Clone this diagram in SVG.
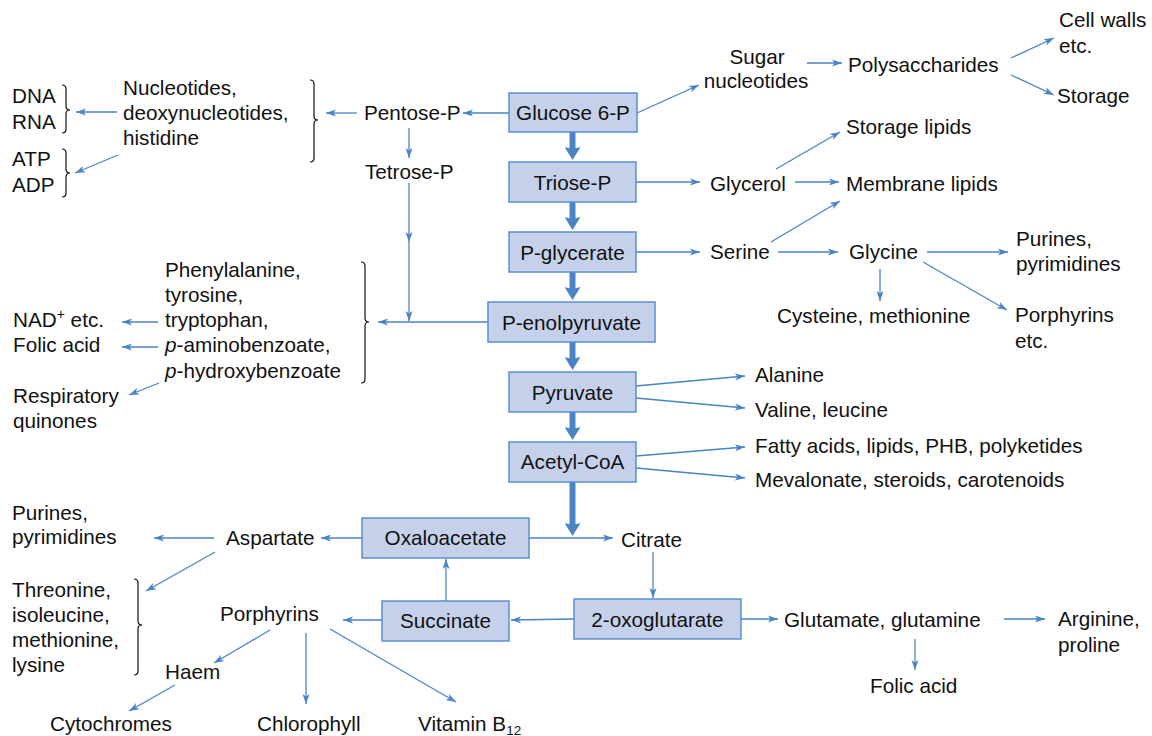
<svg xmlns="http://www.w3.org/2000/svg" width="1152" height="736" viewBox="0 0 1152 736">
<style>
text{font-family:"Liberation Sans",Arial,sans-serif;font-size:20.7px;fill:#111}
.bx{fill:#c5d1eb;stroke:#5a8fd0;stroke-width:1.5}
.c{text-anchor:middle}
.ln{stroke:#4a84c6;stroke-width:1.3;fill:none;marker-end:url(#ah)}
.tk{stroke:#4a84c6;stroke-width:6;fill:none;marker-end:url(#th)}
.br{stroke:#111;stroke-width:1.2;fill:none}
</style>
<defs>
<marker id="ah" markerUnits="userSpaceOnUse" markerWidth="11" markerHeight="8" refX="10" refY="4" orient="auto"><path d="M0,0.5 L10,4 L0,7.5 L2.5,4 z" fill="#4a84c6"/></marker>
<marker id="th" markerUnits="userSpaceOnUse" markerWidth="14" markerHeight="16" refX="6" refY="8" orient="auto"><path d="M0,0 L13,8 L0,16 L2,8 z" fill="#4a84c6"/></marker>
</defs>
<rect width="1152" height="736" fill="#fff"/>

<g id="connectors">
<path class="tk" d="M572.5,132 V153"/>
<path class="tk" d="M572.5,202 V223"/>
<path class="tk" d="M572.5,272 V293"/>
<path class="tk" d="M572.5,342 V363"/>
<path class="tk" d="M572.5,412 V433"/>
<path class="tk" d="M572.5,482 V529"/>
<path class="ln" d="M509,113 H463"/>
<path class="ln" d="M357,113 H326"/>
<path class="ln" d="M117,112 H76"/>
<path class="ln" d="M118,155 L75,173"/>
<path class="ln" d="M409,128 V158"/>
<path class="ln" d="M409,183 V242"/>
<path class="ln" d="M409,242 V321"/>
<path class="ln" d="M488,322 H378"/>
<path class="ln" d="M158,322 H122"/>
<path class="ln" d="M158,347 H122"/>
<path class="ln" d="M159,383 L129,395"/>
<path class="ln" d="M637,113 L699,85"/>
<path class="ln" d="M807,63 H842"/>
<path class="ln" d="M1011,58 L1054,38"/>
<path class="ln" d="M1011,75 L1054,95"/>
<path class="ln" d="M636,182 H700"/>
<path class="ln" d="M776,169 L840,132"/>
<path class="ln" d="M795,182 H839"/>
<path class="ln" d="M636,252 H700"/>
<path class="ln" d="M771,242 L840,201"/>
<path class="ln" d="M778,252 H838"/>
<path class="ln" d="M927,252 H1008"/>
<path class="ln" d="M923,262 L1007,310"/>
<path class="ln" d="M880,269 V301"/>
<path class="ln" d="M636,386 L745,376"/>
<path class="ln" d="M636,398 L745,408"/>
<path class="ln" d="M636,456 L745,447"/>
<path class="ln" d="M636,468 L745,478"/>
<path class="ln" d="M529,538 H613"/>
<path class="ln" d="M653,552 V598"/>
<path class="ln" d="M574,619 L511,620"/>
<path class="ln" d="M446,601 V559"/>
<path class="ln" d="M382,620 H343"/>
<path class="ln" d="M362,538 H321"/>
<path class="ln" d="M214,538 H154"/>
<path class="ln" d="M215,552 L146,591"/>
<path class="ln" d="M270,630 L214,663"/>
<path class="ln" d="M306,633 V704"/>
<path class="ln" d="M330,629 L456,702"/>
<path class="ln" d="M175,685 L129,711"/>
<path class="ln" d="M741,619 H778"/>
<path class="ln" d="M1004,619 H1045"/>
<path class="ln" d="M915,639 V670"/>
</g>

<g id="braces">
<path class="br" d="M62,85 Q66,85 66,89 V106 Q66,110 70,110 Q66,110 66,114 V129 Q66,133 62,133"/>
<path class="br" d="M62,149 Q66,149 66,153 V169 Q66,173 70,173 Q66,173 66,177 V193 Q66,197 62,197"/>
<path class="br" d="M310,80 Q314,80 314,84 V116 Q314,120 318,120 Q314,120 314,124 V158 Q314,162 310,162"/>
<path class="br" d="M361,262 Q365,262 365,266 V318 Q365,322 369,322 Q365,322 365,326 V379 Q365,383 361,383"/>
<path class="br" d="M134,579 Q138,579 138,583 V621 Q138,625 142,625 Q138,625 138,629 V671 Q138,675 134,675"/>
</g>

<g id="glucose6p"><rect class="bx" x="509" y="93" width="128" height="39"/><text class="c" x="573" y="120">Glucose 6-P</text></g>
<g id="triosep"><rect class="bx" x="509" y="162" width="127" height="40"/><text class="c" x="572.5" y="190">Triose-P</text></g>
<g id="pglycerate"><rect class="bx" x="509" y="232" width="127" height="40"/><text class="c" x="572.5" y="260">P-glycerate</text></g>
<g id="penolpyruvate"><rect class="bx" x="488" y="302" width="167" height="40"/><text class="c" x="571.5" y="330">P-enolpyruvate</text></g>
<g id="pyruvate"><rect class="bx" x="509" y="372" width="127" height="40"/><text class="c" x="572.5" y="400">Pyruvate</text></g>
<g id="acetylcoa"><rect class="bx" x="509" y="442" width="127" height="40"/><text class="c" x="572.5" y="469">Acetyl-CoA</text></g>
<g id="oxaloacetate"><rect class="bx" x="362" y="518" width="167" height="40"/><text class="c" x="445.5" y="545">Oxaloacetate</text></g>
<g id="succinate"><rect class="bx" x="382" y="601" width="127" height="40"/><text class="c" x="445.5" y="628">Succinate</text></g>
<g id="oxoglutarate"><rect class="bx" x="574" y="599" width="167" height="40"/><text class="c" x="657.5" y="627">2-oxoglutarate</text></g>

<g id="sugarnuc"><text class="c" x="757" y="64">Sugar</text><text class="c" x="756" y="88">nucleotides</text></g>
<g id="polysacch"><text x="848" y="72">Polysaccharides</text></g>
<g id="cellwalls"><text x="1059" y="27">Cell walls</text><text x="1059" y="53">etc.</text></g>
<g id="storage"><text x="1057" y="103">Storage</text></g>
<g id="dnarna"><text x="12" y="103">DNA</text><text x="12" y="129">RNA</text></g>
<g id="atpadp"><text x="12" y="166">ATP</text><text x="12" y="192">ADP</text></g>
<g id="nucleotides"><text x="123" y="95">Nucleotides,</text><text x="123" y="120">deoxynucleotides,</text><text x="123" y="145">histidine</text></g>
<g id="pentosep"><text x="364" y="120">Pentose-P</text></g>
<g id="tetrosep"><text x="365" y="179">Tetrose-P</text></g>
<g id="glycerol"><text x="710" y="191">Glycerol</text></g>
<g id="storagelipids"><text x="846" y="134">Storage lipids</text></g>
<g id="membranelipids"><text x="846" y="191">Membrane lipids</text></g>
<g id="serine"><text x="710" y="259">Serine</text></g>
<g id="glycine"><text x="849" y="259">Glycine</text></g>
<g id="purines1"><text x="1016" y="246">Purines,</text><text x="1016" y="271">pyrimidines</text></g>
<g id="cysteine"><text x="777" y="323">Cysteine, methionine</text></g>
<g id="porphyrins1"><text x="1015" y="322">Porphyrins</text><text x="1015" y="348">etc.</text></g>
<g id="aromatics"><text x="165" y="277">Phenylalanine,</text><text x="165" y="302">tyrosine,</text><text x="165" y="327">tryptophan,</text><text x="165" y="352"><tspan font-style="italic">p</tspan>-aminobenzoate,</text><text x="165" y="378"><tspan font-style="italic">p</tspan>-hydroxybenzoate</text></g>
<g id="nad"><text x="13" y="327">NAD<tspan font-size="14" dy="-8">+</tspan><tspan dy="8"> etc.</tspan></text></g>
<g id="folic1"><text x="13" y="352">Folic acid</text></g>
<g id="quinones"><text x="13" y="403">Respiratory</text><text x="13" y="428">quinones</text></g>
<g id="alanine"><text x="755" y="382">Alanine</text></g>
<g id="valine"><text x="755" y="417">Valine, leucine</text></g>
<g id="fatty"><text x="755" y="453">Fatty acids, lipids, PHB, polyketides</text></g>
<g id="mevalonate"><text x="755" y="487">Mevalonate, steroids, carotenoids</text></g>
<g id="purines2"><text x="12" y="520">Purines,</text><text x="12" y="544">pyrimidines</text></g>
<g id="aspartate"><text x="226" y="545">Aspartate</text></g>
<g id="citrate"><text x="621" y="547">Citrate</text></g>
<g id="threonine"><text x="12" y="597">Threonine,</text><text x="12" y="622">isoleucine,</text><text x="12" y="647">methionine,</text><text x="12" y="672">lysine</text></g>
<g id="porphyrins2"><text x="220" y="621">Porphyrins</text></g>
<g id="haem"><text x="165" y="679">Haem</text></g>
<g id="cytochromes"><text x="50" y="731">Cytochromes</text></g>
<g id="chlorophyll"><text x="257" y="731">Chlorophyll</text></g>
<g id="vitaminb12"><text x="418" y="731">Vitamin B<tspan font-size="13.5" dy="4">12</tspan></text></g>
<g id="glutamate"><text x="784" y="627">Glutamate, glutamine</text></g>
<g id="arginine"><text x="1058" y="626">Arginine,</text><text x="1058" y="652">proline</text></g>
<g id="folic2"><text x="870" y="693">Folic acid</text></g>
</svg>
